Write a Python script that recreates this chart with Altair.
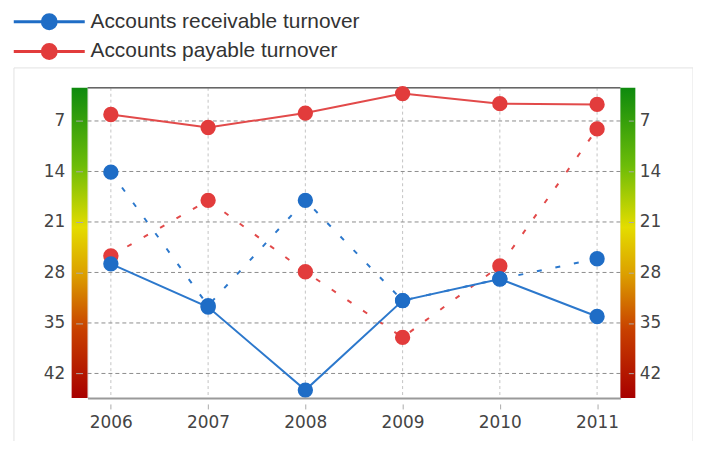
import altair as alt
import pandas as pd

years = ["2006", "2007", "2008", "2009", "2010", "2011"]
receivable_solid = [26.8, 32.8, 44.3, 31.9, 28.9, 34.1]
receivable_dotted = [14.1, 32.6, 18.0, 31.9, 28.9, 26.1]
payable_solid = [6.1, 7.9, 5.9, 3.2, 4.6, 4.7]
payable_dotted = [25.7, 18.0, 27.9, 37.0, 27.1, 8.1]
series_names = ["Accounts receivable turnover", "Accounts payable turnover"]
series_colors = ["#1f6dc6", "#e23c3c"]
line_colors = ["#2c78cc", "#e24a4a"]
y_ticks = [7, 14, 21, 28, 35, 42]

rows = []
for name, solid, dotted in [(series_names[1], payable_solid, payable_dotted),
                            (series_names[0], receivable_solid, receivable_dotted)]:
    for yr, s, d in zip(years, solid, dotted):
        rows.append({"year": yr, "series": name, "style": "dotted", "value": d})
        rows.append({"year": yr, "series": name, "style": "solid", "value": s})
df = pd.DataFrame(rows)
ticks_df = pd.DataFrame({"t": y_ticks})
years_df = pd.DataFrame({"year": years})
one = pd.DataFrame({"a": [0]})

W, H = 536, 312
font = "DejaVu Sans"

x_scale = alt.Scale(type="point", domain=years, padding=0.24)
y_scale = alt.Scale(domain=[2.4, 45.4], reverse=True, nice=False, zero=False)
color_scale = alt.Scale(domain=series_names, range=series_colors)

x_axis = alt.Axis(orient="bottom", grid=False, domain=True, domainColor="#9a9a9a",
                  domainWidth=2, tickSize=11, tickDash=[0, 6, 5, 0], tickColor="#aaaaaa",
                  labelPadding=6, labelFont=font, labelFontSize=17, labelColor="#444444",
                  labelAngle=0, title=None, zindex=1)
left_axis = alt.Axis(orient="left", values=y_ticks, grid=False, domain=False,
                     tickSize=12, tickDash=[0, 5, 7, 0], tickColor="#aaaaaa",
                     labelPadding=11, labelFont=font, labelFontSize=17,
                     labelColor="#444444", title=None, zindex=1)
right_axis = alt.Axis(orient="right", values=y_ticks, grid=False, domain=False,
                      tickSize=13, tickDash=[0, 8, 5, 0], tickColor="#aaaaaa",
                      labelPadding=6, labelFont=font, labelFontSize=17,
                      labelColor="#444444", title=None, zindex=1)

legend_symbol = "M-5.1,0H5.1M-1,0A1,1,0,1,0,1,0A1,1,0,1,0,-1,0Z"
legend = alt.Legend(title=None, orient="none", legendX=-49, legendY=-77,
                    labelFont="Liberation Sans", labelFontSize=21, labelColor="#333333",
                    labelLimit=500, symbolType=legend_symbol, symbolSize=196,
                    symbolStrokeWidth=3, labelOffset=31, rowPadding=3, padding=0)

X = alt.X("year:N", scale=x_scale, axis=x_axis)
Y = alt.Y("value:Q", scale=y_scale, axis=left_axis)

gradient = alt.LinearGradient(
    gradient="linear", x1=0, y1=0, x2=0, y2=1,
    stops=[alt.GradientStop(offset=0.0, color="#0e8a0e"),
           alt.GradientStop(offset=0.25, color="#6cbc08"),
           alt.GradientStop(offset=0.45, color="#e4dc00"),
           alt.GradientStop(offset=0.6, color="#dca000"),
           alt.GradientStop(offset=0.78, color="#c84000"),
           alt.GradientStop(offset=1.0, color="#a80000")])

border = alt.Chart(one).mark_rect(fillOpacity=0, stroke="#e2e2e2", strokeWidth=1).encode(
    x=alt.value(-74), x2=alt.value(609), y=alt.value(-20), y2=alt.value(H + 60))
vgrid = alt.Chart(years_df).mark_rule(color="#c4c4c4", strokeDash=[3, 3], strokeWidth=1).encode(x=X)
hgrid = alt.Chart(ticks_df).mark_rule(color="#8c8c8c", strokeDash=[4, 3], strokeWidth=1).encode(
    y=alt.Y("t:Q", scale=y_scale, axis=left_axis))
top_rule = alt.Chart(one).mark_rule(color="#666666", strokeWidth=1.5).encode(
    x=alt.value(0), x2=alt.value(W), y=alt.value(0))
bar_left = alt.Chart(one).mark_rect(color=gradient).encode(
    x=alt.value(-16), x2=alt.value(0), y=alt.value(0), y2=alt.value(H))
bar_right = alt.Chart(one).mark_rect(color=gradient).encode(
    x=alt.value(W), x2=alt.value(W + 15), y=alt.value(0), y2=alt.value(H))

line_layers = []
for name, lc in [(series_names[1], line_colors[1]), (series_names[0], line_colors[0])]:
    for style in ["dotted", "solid"]:
        kw = {"strokeDash": [5, 14]} if style == "dotted" else {}
        line_layers.append(
            alt.Chart(df).transform_filter(
                f"datum.series == '{name}' && datum.style == '{style}'"
            ).mark_line(color=lc, strokeWidth=2, **kw).encode(x=X, y=Y))

points = alt.Chart(df).mark_point(filled=True, size=180, opacity=1, strokeWidth=2).encode(
    x=X, y=Y,
    fill=alt.Fill("series:N", scale=color_scale, legend=legend),
    stroke=alt.Stroke("series:N", scale=color_scale, legend=legend))

left = alt.layer(border, vgrid, hgrid, top_rule, bar_left, bar_right, *line_layers, points)
right = alt.Chart(ticks_df).mark_point(opacity=0).encode(
    y=alt.Y("t:Q", scale=y_scale, axis=right_axis))

chart = alt.layer(left, right).resolve_scale(y="independent").properties(
    width=W, height=H,
    padding={"left": 80, "top": 79, "right": 73, "bottom": 42},
    autosize=alt.AutoSizeParams(type="none"),
).configure_view(stroke=None).configure(background="white")

chart.save("out.html", embed_options={"renderer": "svg", "actions": False})
